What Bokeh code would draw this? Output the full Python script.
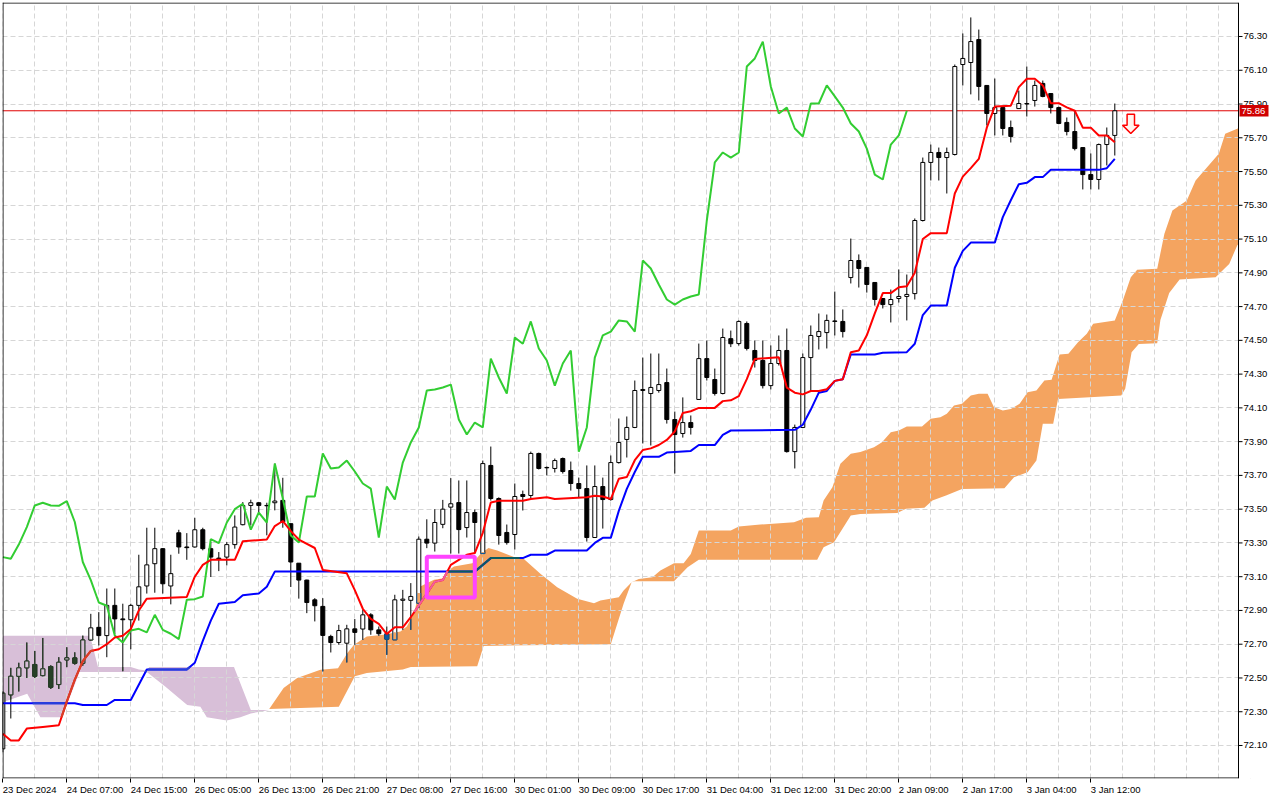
import numpy as np
from bokeh.plotting import figure
from bokeh.models import Range1d, FixedTicker, LinearAxis
from bokeh.core.properties import value
from bokeh.embed import file_html
from bokeh.resources import INLINE

# ---------------- data (H1 candles, 23 Dec 2024 - 3 Jan 2025) ----------------
opens = [72.08, 72.40, 72.51, 72.56, 72.58, 72.514, 72.568, 72.461, 72.607, 72.619,
         72.587, 72.725, 72.80, 72.751, 72.93, 72.85, 72.845, 72.93, 73.045, 73.177,
         73.266, 73.045, 73.36, 73.276, 73.276, 73.378, 73.266, 73.21, 73.216, 73.29,
         73.408, 73.522, 73.538, 73.522, 73.538, 73.552, 73.414, 73.18, 73.08, 72.963,
         72.924, 72.746, 72.71, 72.706, 72.791, 72.79, 72.874, 72.785, 72.762, 72.726,
         72.96, 72.96, 72.943, 73.322, 73.299, 73.41, 73.512, 73.539, 73.391, 73.48,
         73.237, 73.759, 73.563, 73.362, 73.35, 73.587, 73.581, 73.83, 73.745, 73.741,
         73.80, 73.729, 73.652, 73.622, 73.332, 73.634, 73.557, 73.776, 73.913, 73.984,
         74.203, 74.185, 74.203, 74.25, 74.031, 73.948, 74.013, 74.15, 74.392, 74.268,
         74.185, 74.51, 74.481, 74.60, 74.44, 74.381, 74.232, 74.363, 74.44, 73.841,
         73.984, 74.398, 74.523, 74.546, 74.615, 74.612, 74.872, 74.973, 74.932, 74.843,
         74.748, 74.712, 74.748, 74.76, 74.777, 75.21, 75.554, 75.613, 75.583, 75.601,
         76.134, 76.146, 76.282, 76.01, 75.844, 75.879, 75.761, 75.873, 75.90, 75.921,
         76.022, 75.962, 75.879, 75.791, 75.737, 75.642, 75.482, 75.453, 75.66, 75.714]
highs = [72.42, 72.56, 72.59, 72.71, 72.66, 72.737, 72.575, 72.623, 72.682, 72.652,
         72.751, 72.88, 72.89, 73.03, 73.03, 72.94, 72.94, 73.23, 73.39, 73.39,
         73.27, 73.23, 73.378, 73.358, 73.449, 73.39, 73.305, 73.246, 73.305, 73.463,
         73.542, 73.556, 73.542, 73.538, 73.77, 73.686, 73.414, 73.18, 73.082, 72.973,
         72.973, 72.756, 72.815, 72.815, 72.849, 72.904, 72.884, 72.805, 72.805, 72.993,
         73.022, 73.062, 73.338, 73.44, 73.50, 73.555, 73.684, 73.67, 73.67, 73.498,
         73.788, 73.871, 73.57, 73.409, 73.652, 73.61, 73.841, 73.835, 73.753, 73.80,
         73.806, 73.782, 73.687, 73.759, 73.759, 73.687, 73.818, 74.037, 74.049, 74.262,
         74.398, 74.422, 74.422, 74.333, 74.078, 74.162, 74.055, 74.481, 74.499, 74.333,
         74.57, 74.558, 74.618, 74.612, 74.499, 74.499, 74.47, 74.529, 74.57, 74.001,
         74.422, 74.588, 74.659, 74.653, 74.789, 74.683, 75.103, 75.009, 74.932, 74.843,
         74.75, 74.801, 74.92, 74.89, 75.222, 75.583, 75.66, 75.642, 75.642, 76.134,
         76.318, 76.413, 76.341, 76.01, 76.051, 75.879, 75.802, 75.98, 76.122, 76.039,
         76.039, 75.962, 75.885, 75.82, 75.862, 75.642, 75.607, 75.666, 75.761, 75.903]
lows = [72.06, 72.26, 72.42, 72.50, 72.50, 72.51, 72.435, 72.435, 72.564, 72.579,
        72.573, 72.722, 72.692, 72.623, 72.76, 72.54, 72.67, 72.84, 73.00, 73.005,
        73.00, 72.936, 73.236, 73.20, 73.272, 73.256, 73.098, 73.133, 73.167, 73.266,
        73.404, 73.404, 73.483, 73.345, 73.493, 73.39, 73.039, 72.97, 72.884, 72.835,
        72.539, 72.651, 72.697, 72.592, 72.697, 72.726, 72.756, 72.75, 72.637, 72.726,
        72.785, 72.785, 72.914, 73.269, 73.249, 73.387, 73.237, 73.237, 73.332, 73.237,
        73.237, 73.551, 73.29, 73.29, 73.261, 73.492, 73.563, 73.735, 73.70, 73.717,
        73.711, 73.61, 73.569, 73.308, 73.33, 73.385, 73.55, 73.77, 73.806, 73.98,
        73.889, 73.877, 74.19, 74.007, 73.711, 73.924, 73.942, 74.15, 74.262, 74.173,
        74.18, 74.46, 74.469, 74.44, 74.339, 74.215, 74.209, 74.351, 73.835, 73.741,
        73.98, 74.197, 74.446, 74.452, 74.529, 74.517, 74.837, 74.813, 74.783, 74.706,
        74.689, 74.606, 74.724, 74.618, 74.742, 75.204, 75.447, 75.447, 75.37, 75.595,
        76.01, 75.957, 75.921, 75.773, 75.714, 75.714, 75.672, 75.873, 75.826, 75.885,
        75.94, 75.844, 75.78, 75.714, 75.625, 75.394, 75.394, 75.394, 75.536, 75.595]
closes = [72.41, 72.51, 72.56, 72.60, 72.51, 72.554, 72.445, 72.593, 72.619, 72.587,
          72.725, 72.797, 72.751, 72.93, 72.85, 72.845, 72.93, 73.04, 73.17, 73.266,
          73.058, 73.118, 73.276, 73.272, 73.378, 73.266, 73.216, 73.206, 73.29, 73.394,
          73.522, 73.538, 73.522, 73.52, 73.548, 73.424, 73.187, 73.08, 72.947, 72.928,
          72.752, 72.71, 72.781, 72.791, 72.77, 72.874, 72.785, 72.762, 72.73, 72.963,
          72.967, 72.983, 73.322, 73.299, 73.421, 73.50, 73.532, 73.379, 73.48, 73.421,
          73.77, 73.563, 73.344, 73.302, 73.575, 73.575, 73.83, 73.741, 73.747, 73.788,
          73.723, 73.652, 73.622, 73.332, 73.634, 73.557, 73.776, 73.895, 73.984, 74.203,
          74.209, 74.221, 74.238, 74.031, 73.942, 74.013, 73.984, 74.392, 74.28, 74.185,
          74.517, 74.48, 74.612, 74.452, 74.381, 74.232, 74.363, 74.44, 73.841, 73.984,
          74.398, 74.529, 74.552, 74.618, 74.612, 74.552, 74.973, 74.926, 74.831, 74.742,
          74.712, 74.742, 74.76, 74.772, 75.21, 75.554, 75.613, 75.583, 75.613, 76.122,
          76.17, 76.27, 76.004, 75.844, 75.879, 75.755, 75.708, 75.903, 75.903, 76.01,
          75.945, 75.879, 75.785, 75.737, 75.636, 75.482, 75.453, 75.66, 75.714, 75.86]

# Tenkan-sen (red): bar index / price
tenkan_bar = [0, 1, 2, 3, 5, 7, 8, 9, 10, 11, 12, 13, 14, 15, 16, 17, 18, 23, 24, 25, 26, 29, 30, 33,
              34, 35, 36, 37, 39, 40, 43, 44, 45, 46, 47, 48, 49, 50, 51, 52, 53, 54, 55, 56, 57, 58,
              59, 60, 61, 62, 65, 66, 68, 69, 73, 74, 75, 76, 77, 78, 79, 80, 81, 82, 83, 84, 85, 86,
              87, 89, 90, 91, 92, 93, 94, 97, 98, 99, 100, 101, 102, 103, 104, 105, 106, 107, 108, 109,
              110, 111, 112, 113, 114, 115, 116, 118, 119, 120, 121, 122, 123, 124, 126, 127, 128, 129,
              130, 131, 132, 133, 134, 135, 136, 137, 138, 139]
tenkan = [72.17, 72.13, 72.13, 72.20, 72.21, 72.22, 72.36, 72.49, 72.60, 72.66, 72.67, 72.70, 72.74,
          72.75, 72.79, 72.90, 72.97, 72.98, 73.10, 73.17, 73.20, 73.20, 73.31, 73.32, 73.40, 73.43,
          73.37, 73.32, 73.27, 73.14, 73.12, 73.02, 72.91, 72.85, 72.82, 72.76, 72.80, 72.80, 72.86,
          72.93, 73.00, 73.07, 73.08, 73.17, 73.20, 73.23, 73.24, 73.36, 73.54, 73.55, 73.55, 73.56,
          73.57, 73.56, 73.57, 73.58, 73.575, 73.56, 73.68, 73.69, 73.79, 73.85, 73.86, 73.88, 73.91,
          73.96, 74.07, 74.08, 74.10, 74.10, 74.14, 74.145, 74.17, 74.27, 74.39, 74.40, 74.22, 74.19,
          74.18, 74.20, 74.20, 74.21, 74.26, 74.27, 74.43, 74.44, 74.53, 74.66, 74.78, 74.78, 74.815,
          74.82, 74.90, 75.10, 75.135, 75.135, 75.37, 75.47, 75.52, 75.575, 75.76, 75.885, 75.89,
          76.00, 76.05, 76.05, 76.01, 75.905, 75.905, 75.88, 75.86, 75.76, 75.76, 75.714, 75.714, 75.674]

# Kijun-sen (blue)
kijun_bar = [0, 9, 10, 13, 14, 16, 17, 18, 23, 24, 25, 26, 27, 29, 30, 32, 33, 34, 59, 60, 61, 65, 66,
             68, 69, 73, 74, 75, 76, 77, 78, 79, 80, 82, 83, 86, 87, 89, 90, 91, 99, 100, 101, 102, 103,
             104, 105, 106, 109, 110, 113, 114, 115, 116, 118, 119, 120, 121, 124, 125, 126, 127, 128,
             129, 130, 131, 137, 138, 139]
kijun = [72.35, 72.35, 72.34, 72.34, 72.37, 72.37, 72.46, 72.55, 72.55, 72.59, 72.72, 72.84, 72.94,
         72.95, 72.99, 73.00, 73.04, 73.13, 73.13, 73.17, 73.21, 73.21, 73.23, 73.23, 73.255, 73.255,
         73.30, 73.33, 73.33, 73.49, 73.62, 73.72, 73.81, 73.81, 73.835, 73.845, 73.88, 73.88, 73.94,
         73.966, 73.97, 74.00, 74.09, 74.19, 74.20, 74.26, 74.27, 74.416, 74.416, 74.426, 74.43, 74.48,
         74.65, 74.706, 74.706, 74.93, 75.03, 75.079, 75.079, 75.23, 75.33, 75.425, 75.433, 75.467,
         75.467, 75.51, 75.51, 75.52, 75.575]

# Kumo, bearish part (Senkou B above Senkou A) - thistle
kumo_bear_top_bar = [0, 10.9, 11.9, 16, 17, 18.05, 18.3, 28.9, 31, 33.3]
kumo_bear_top = [72.75, 72.75, 72.565, 72.565, 72.55, 72.545, 72.565, 72.565, 72.31, 72.31]
kumo_bear_bot_bar = [0, 3.05, 4.7, 7.4, 8.5, 9.6, 18.0, 20.3, 23.05, 24.7, 25.5, 28.0, 29.7, 31.0, 33.3]
kumo_bear_bot = [72.356, 72.406, 72.267, 72.267, 72.40, 72.535, 72.535, 72.45, 72.34, 72.33, 72.267,
                 72.248, 72.267, 72.29, 72.31]

# Kumo, bullish part (Senkou A above Senkou B) - sandy brown
kumo_bull_top_bar = [33.3, 35.1, 36.8, 39.7, 41.9, 43.05, 43.9, 45.5, 47.6, 49.7, 50.5, 51.4, 52.2, 53.05,
                     53.9, 55.1, 55.5, 56.4, 58.7, 59.7, 60.7, 61.8, 63.9, 65.1, 67.2, 69.3, 71.8, 73.9,
                     74.7, 77.0, 77.6, 78.6, 79.5, 81.2, 82.2, 83.9, 85.1, 86.0, 87.0, 91.0, 92.0, 94.7,
                     98.9, 100.4, 102.0, 102.6, 103.7, 104.7, 106.0, 107.2, 108.9, 109.9, 111.0, 112.0,
                     113.0, 114.9, 116.0, 117.2, 118.0, 118.9, 119.9, 121.0, 122.0, 123.1, 123.9, 125.0,
                     126.0, 127.1, 128.1, 129.2, 130.2, 131.1, 132.1, 133.2, 134.4, 135.5, 136.3, 139.0,
                     140.0, 141.0, 141.8, 144.3, 145.2, 146.2, 148.0, 149.1, 152.0, 152.8, 154.3, 154.6]
kumo_bull_top = [72.316, 72.44, 72.50, 72.549, 72.558, 72.647, 72.697, 72.746, 72.756, 72.776, 72.805,
                 72.884, 73.042, 73.062, 73.082, 73.091, 73.131, 73.16, 73.18, 73.235, 73.27, 73.255,
                 73.216, 73.206, 73.117, 73.038, 72.969, 72.943, 72.959, 72.978, 73.018, 73.067, 73.087,
                 73.097, 73.136, 73.18, 73.18, 73.235, 73.373, 73.373, 73.397, 73.409, 73.423, 73.449,
                 73.452, 73.551, 73.63, 73.769, 73.828, 73.838, 73.867, 73.897, 73.956, 73.966, 73.99,
                 73.99, 74.035, 74.045, 74.065, 74.114, 74.124, 74.173, 74.183, 74.183, 74.104, 74.085,
                 74.094, 74.124, 74.193, 74.203, 74.262, 74.266, 74.416, 74.42, 74.489, 74.539, 74.598,
                 74.618, 74.736, 74.874, 74.918, 74.924, 75.131, 75.269, 75.328, 75.447, 75.605, 75.724,
                 75.753, 75.76]
kumo_bull_bot_bar = [33.3, 42.0, 43.0, 44.0, 45.5, 50.0, 51.0, 59.3, 60.1, 76.0, 77.6, 78.6, 79.0, 83.9,
                     85.6, 87.0, 101.8, 102.6, 103.9, 106.0, 107.2, 111.8, 112.9, 115.2, 116.2, 117.9,
                     118.9, 119.9, 125.2, 126.4, 128.1, 129.2, 130.0, 131.3, 131.9, 139.8, 140.3, 141.1,
                     142.0, 144.3, 144.7, 145.8, 147.1, 151.6, 153.3, 154.3, 154.6]
kumo_bull_bot = [72.316, 72.33, 72.42, 72.51, 72.53, 72.55, 72.565, 72.57, 72.69, 72.70, 72.939, 73.067,
                 73.073, 73.073, 73.156, 73.20, 73.20, 73.274, 73.304, 73.462, 73.472, 73.478, 73.502,
                 73.508, 73.551, 73.581, 73.60, 73.62, 73.624, 73.689, 73.719, 73.788, 74.006, 74.006,
                 74.153, 74.173, 74.213, 74.43, 74.479, 74.483, 74.62, 74.78, 74.86, 74.874, 74.953,
                 75.062, 75.08]

chikou_shift = 26

# Highlight box and sell signal
box_bars = [53, 59]
box_prices = [72.977, 73.218]
signal_bar = [141]
signal_price = [75.84]

# Axis texts
x_label_bars = [0, 8, 16, 24, 32, 40, 48, 56, 64, 72, 80, 88, 96, 104, 112, 120, 128, 136]
x_labels = ["23 Dec 2024", "24 Dec 07:00", "24 Dec 15:00", "26 Dec 05:00", "26 Dec 13:00",
            "26 Dec 21:00", "27 Dec 08:00", "27 Dec 16:00", "30 Dec 01:00", "30 Dec 09:00",
            "30 Dec 17:00", "31 Dec 04:00", "31 Dec 12:00", "31 Dec 20:00", "2 Jan 09:00",
            "2 Jan 17:00", "3 Jan 04:00", "3 Jan 12:00"]
y_tick_values = [72.10, 72.30, 72.50, 72.70, 72.90, 73.10, 73.30, 73.50, 73.70, 73.90, 74.10,
                 74.30, 74.50, 74.70, 74.90, 75.10, 75.30, 75.50, 75.70, 75.90, 76.10, 76.30]

# ---------------- layout ----------------
FONT = "Liberation Sans"
FS = 9.5
PX = 8.0                      # px per bar
X0 = -0.0375                  # bar at the left frame edge
FW, FH = 1268, 776
X1 = X0 + FW / PX
EDGE = X0 + 1236 / PX         # price-axis line (chart area ends here)
Y0, Y1 = 71.9045, 76.5014
ppy = FH / (Y1 - Y0)

p = figure(frame_width=FW, frame_height=FH, x_range=Range1d(X0, X1), y_range=Range1d(Y0, Y1),
           output_backend="svg", toolbar_location=None, y_axis_location=None,
           x_axis_location=None, min_border_left=2, min_border_top=2, min_border_right=0,
           min_border_bottom=0, background_fill_color="white", border_fill_color="white")
p.outline_line_color = None

# grid (under everything except the kumo)
p.xgrid.ticker = FixedTicker(ticks=list(range(0, 160, 4)))
p.ygrid.ticker = FixedTicker(ticks=y_tick_values)
for g in (p.xgrid, p.ygrid):
    g.grid_line_color = "#d6d6d6"
    g.grid_line_dash = "5 3"
    g.grid_line_width = 1

# bottom time axis: small tick at the bar, label starting at the tick
ADV = {" ": 0.278, ":": 0.278, "D": 0.722, "e": 0.556, "c": 0.5, "J": 0.5, "a": 0.556, "n": 0.556}
def text_w(s):
    return sum(ADV.get(ch, 0.556) for ch in s) * FS

centers = [round(b + (text_w(t) / 2) / PX, 4) for b, t in zip(x_label_bars, x_labels)]
ax = LinearAxis(ticker=FixedTicker(ticks=centers, minor_ticks=x_label_bars),
                major_label_overrides={cc: t for cc, t in zip(centers, x_labels)},
                axis_line_color=None, major_tick_line_color=None, major_tick_out=0, major_tick_in=0,
                minor_tick_line_color="black", minor_tick_out=4, minor_tick_in=0,
                major_label_standoff=1, major_label_text_font=FONT,
                major_label_text_font_size=f"{FS}px", major_label_text_color="black")
p.add_layout(ax, "below")

# ---------------- kumo ----------------
BEAR_C, BULL_C = "#d8bfd8", "#f4a460"
p.patch(kumo_bear_top_bar + kumo_bear_bot_bar[::-1], kumo_bear_top + kumo_bear_bot[::-1],
        fill_color=BEAR_C, line_color=None, level="image")
p.patch(kumo_bull_top_bar + kumo_bull_bot_bar[::-1], kumo_bull_top + kumo_bull_bot[::-1],
        fill_color=BULL_C, line_color=None, level="image")

SPLIT = kumo_bull_top_bar[0]

def cloud_at(x):
    if x < SPLIT:
        return (np.interp(x, kumo_bear_bot_bar, kumo_bear_bot),
                np.interp(x, kumo_bear_top_bar, kumo_bear_top), BEAR_C)
    return (np.interp(x, kumo_bull_bot_bar, kumo_bull_bot),
            np.interp(x, kumo_bull_top_bar, kumo_bull_top), BULL_C)

def seen_through(col, cloud):
    # MT5 paints the kumo in XOR-like mode: what lies under it changes colour
    o = int(col.lstrip("#"), 16)
    k = int(cloud.lstrip("#"), 16)
    return "#%06x" % ((~o & 0xFFFFFF) ^ k)

# current price line (ends at the price axis)
last = closes[-1]
p.segment([X0], [last], [EDGE], [last], line_color="#e00000", line_width=1)

# ---------------- candles ----------------
o = np.array(opens); h = np.array(highs); l = np.array(lows); c = np.array(closes)
bars = np.arange(len(c))
bull = c >= o
BW = 0.5
p.segment(bars, l, bars, h, line_color="black", line_width=1)
p.vbar(x=bars[bull], width=BW, top=c[bull], bottom=o[bull], fill_color="white", line_color="black",
       line_width=1)
p.vbar(x=bars[~bull], width=BW, top=o[~bull], bottom=c[~bull], fill_color="black", line_color="black",
       line_width=1)

# parts of candles lying inside the kumo
wx, wy0, wy1, wc = [], [], [], []
bx, bb, bt, bf = [], [], [], []
ex0, ey0, ex1, ey1, ec = [], [], [], [], []
for i in range(len(c)):
    lo, hi, kc = cloud_at(float(i))
    dark = seen_through("#000000", kc)
    a, b = max(l[i], lo), min(h[i], hi)
    if a < b:
        wx.append(i); wy0.append(a); wy1.append(b); wc.append(dark)
    top, bot = max(o[i], c[i]), min(o[i], c[i])
    a, b = max(bot, lo), min(top, hi)
    if a < b:
        bx.append(i); bb.append(a); bt.append(b)
        bf.append(kc if bull[i] else dark)
        for xx in (i - BW / 2, i + BW / 2):
            ex0.append(xx); ey0.append(a); ex1.append(xx); ey1.append(b); ec.append(dark)
        if bot >= lo:
            ex0.append(i - BW / 2); ey0.append(bot); ex1.append(i + BW / 2); ey1.append(bot); ec.append(dark)
        if top <= hi:
            ex0.append(i - BW / 2); ey0.append(top); ex1.append(i + BW / 2); ey1.append(top); ec.append(dark)
p.segment(wx, wy0, wx, wy1, line_color=wc, line_width=1)
p.vbar(x=bx, width=BW, top=bt, bottom=bb, fill_color=bf, line_color=None)
p.segment(ex0, ey0, ex1, ey1, line_color=ec, line_width=1)

# ---------------- Ichimoku lines ----------------
def draw_line(xs, ys, col):
    p.line(xs, ys, line_color=col, line_width=2)
    fx = np.arange(xs[0], xs[-1] + 1e-9, 0.02)
    fy = np.interp(fx, xs, ys)
    runs, cur, cur_col = [], None, None
    for xx, yy in zip(fx, fy):
        lo, hi, kc = cloud_at(xx)
        if lo <= yy <= hi:
            if cur is None or kc != cur_col:
                cur = ([], []); cur_col = kc; runs.append((cur, kc))
            cur[0].append(xx); cur[1].append(yy)
        else:
            cur = None
    if runs:
        p.multi_line([r[0][0] for r in runs], [r[0][1] for r in runs],
                     line_color=[seen_through(col, r[1]) for r in runs], line_width=2)

draw_line(list(bars[:len(c) - chikou_shift]), list(c[chikou_shift:]), "#32cd32")
draw_line(kijun_bar, kijun, "#0000ff")
draw_line(tenkan_bar, tenkan, "#ff0000")

# highlight box
p.quad(left=[box_bars[0]], right=[box_bars[1]], bottom=[box_prices[0]], top=[box_prices[1]],
       fill_color=None, line_color="#ff44ff", line_width=4)

# sell arrow (shape in px around the signal point)
shape = [(-3.7, 0), (3.7, 0), (3.7, 11), (8.3, 11), (0, 19.3), (-8.3, 11), (-3.7, 11)]
p.patch([signal_bar[0] + dx / PX for dx, dy in shape],
        [signal_price[0] - dy / ppy for dx, dy in shape],
        fill_color="#fff4ee", line_color="#ff0000", line_width=1.5)

# ---------------- price scale on the right ----------------
p.quad(left=[EDGE], right=[X1], bottom=[Y0], top=[Y1], fill_color="white", line_color=None)
half_x, half_y = 0.5 / PX, 0.5 / ppy
p.segment([X0, X0 + half_x, X0], [Y1 - half_y, Y0, Y0 + half_y],
          [EDGE, X0 + half_x, EDGE], [Y1 - half_y, Y1, Y0 + half_y], line_color="black", line_width=1)
p.segment([EDGE], [Y0], [EDGE], [Y1], line_color="black", line_width=1)
p.segment([EDGE] * len(y_tick_values), y_tick_values, [EDGE + 4 / PX] * len(y_tick_values),
          y_tick_values, line_color="black", line_width=1)
p.text([EDGE + 5 / PX] * len(y_tick_values), y_tick_values, text=[f"{v:.2f}" for v in y_tick_values],
       text_font=value(FONT), text_font_size=value(f"{FS}px"), text_color="black",
       text_baseline="middle", text_align="left")
tag_h = 11.5 / ppy
p.quad(left=[EDGE + 1 / PX], right=[EDGE + 30 / PX], bottom=[last - tag_h / 2], top=[last + tag_h / 2],
       fill_color="#d00000", line_color=None)
p.text([EDGE + 3 / PX], [last], text=[f"{last:.2f}"], text_font=value(FONT),
       text_font_size=value(f"{FS}px"), text_color="white", text_baseline="middle", text_align="left")

open("out.html", "w").write(file_html(p, INLINE))
